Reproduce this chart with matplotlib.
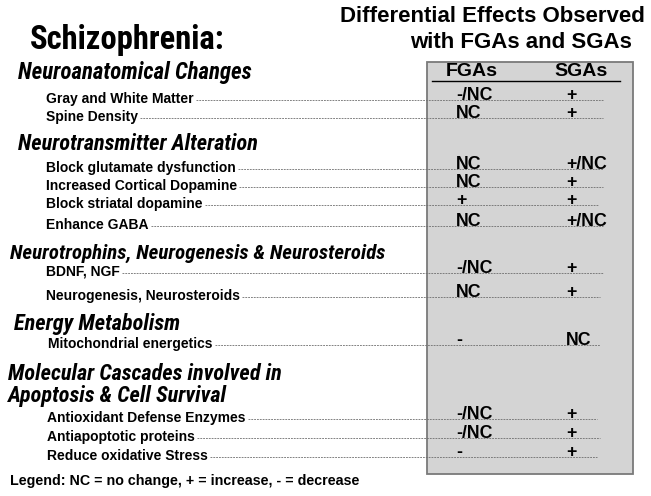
import matplotlib.pyplot as plt
from matplotlib.patches import Rectangle

# ---- content ----
title_left = "Schizophrenia:"
title_right = ["Differential Effects Observed", "with FGAs and SGAs"]
col_heads = ["FGAs", "SGAs"]

sections = ["Neuroanatomical Changes",
            "Neurotransmitter Alteration",
            "Neurotrophins, Neurogenesis & Neurosteroids",
            "Energy Metabolism",
            "Molecular Cascades involved in\nApoptosis & Cell Survival"]

items = ["Gray and White Matter", "Spine Density",
         "Block glutamate dysfunction", "Increased Cortical Dopamine",
         "Block striatal dopamine", "Enhance GABA",
         "BDNF, NGF", "Neurogenesis, Neurosteroids",
         "Mitochondrial energetics",
         "Antioxidant Defense Enzymes", "Antiapoptotic proteins",
         "Reduce oxidative Stress"]
fga = ["-/NC", "NC", "NC", "NC", "+", "NC", "-/NC", "NC", "-", "-/NC", "-/NC", "-"]
sga = ["+", "+", "+/NC", "+", "+", "+/NC", "+", "+", "NC", "+", "+", "+"]

legend_txt = "Legend: NC = no change, + = increase, - = decrease"

# ---- layout (pixels, y from top) ----
sec_x = [18, 18, 10, 14, 8]
sec_y = [72, 144, 253, 324, 385]
sec_size = [16.5, 16, 15, 16, 16]
item_x = [46, 46, 46, 46, 46, 46, 46, 46, 48, 47, 47, 47]
line_y = [100, 118, 169, 187, 205, 226, 273, 297, 345, 419, 438, 457]
line_end = [603, 603, 603, 603, 598, 603, 603, 600, 600, 597, 600, 597]

narrow = ['Roboto Condensed', 'Liberation Sans']
wide = 'Liberation Sans'

W, H = 651, 496
fig = plt.figure(figsize=(W / 100, H / 100), dpi=100)
ax = fig.add_axes([0, 0, 1, 1])
ax.set_xlim(0, W)
ax.set_ylim(H, 0)
ax.axis('off')

# grey box
ax.add_patch(Rectangle((427, 62), 206, 412, facecolor='#d4d4d4', edgecolor='#7a7a7a', lw=1.3, zorder=0))

ax.text(30, 40, title_left, family=narrow, weight='bold', fontsize=23.5, va='center', ha='left')
ax.text(645, 17, title_right[0], family=wide, weight='bold', fontsize=16, va='center', ha='right')
ax.text(632, 43, title_right[1], family=wide, weight='bold', fontsize=16, va='center', ha='right')

ax.text(472, 72, col_heads[0], family=wide, weight='bold', fontsize=14, va='center', ha='center')
ax.text(581, 72, col_heads[1], family=wide, weight='bold', fontsize=14, va='center', ha='center')
ax.plot([432, 620], [81, 81], color='black', lw=1)

for s, x, y, fs in zip(sections, sec_x, sec_y, sec_size):
    ax.text(x, y, s, family=narrow, weight='bold', style='italic', fontsize=fs,
            va='center', ha='left', linespacing=1.0)

fig.canvas.draw()
r = fig.canvas.get_renderer()
for i, lab in enumerate(items):
    y = line_y[i]
    t = ax.text(item_x[i], y - 1, lab, family=wide, weight='bold', fontsize=10,
                va='center', ha='left')
    bb = t.get_window_extent(r)
    x0 = bb.x1 + 2
    ax.plot([x0, line_end[i]], [y, y], color='#6e6e6e', lw=0.6, ls=(0, (2.2, 1.2)), zorder=1)
    ax.text(456, y, fga[i], family=wide, weight='bold', fontsize=12.8, va='baseline', ha='left', zorder=3)
    ax.text(566, y, sga[i], family=wide, weight='bold', fontsize=12.8, va='baseline', ha='left', zorder=3)

ax.text(10, 481, legend_txt, family=wide, weight='bold', fontsize=10.3, va='center', ha='left')

fig.savefig('out.png', dpi=100)
